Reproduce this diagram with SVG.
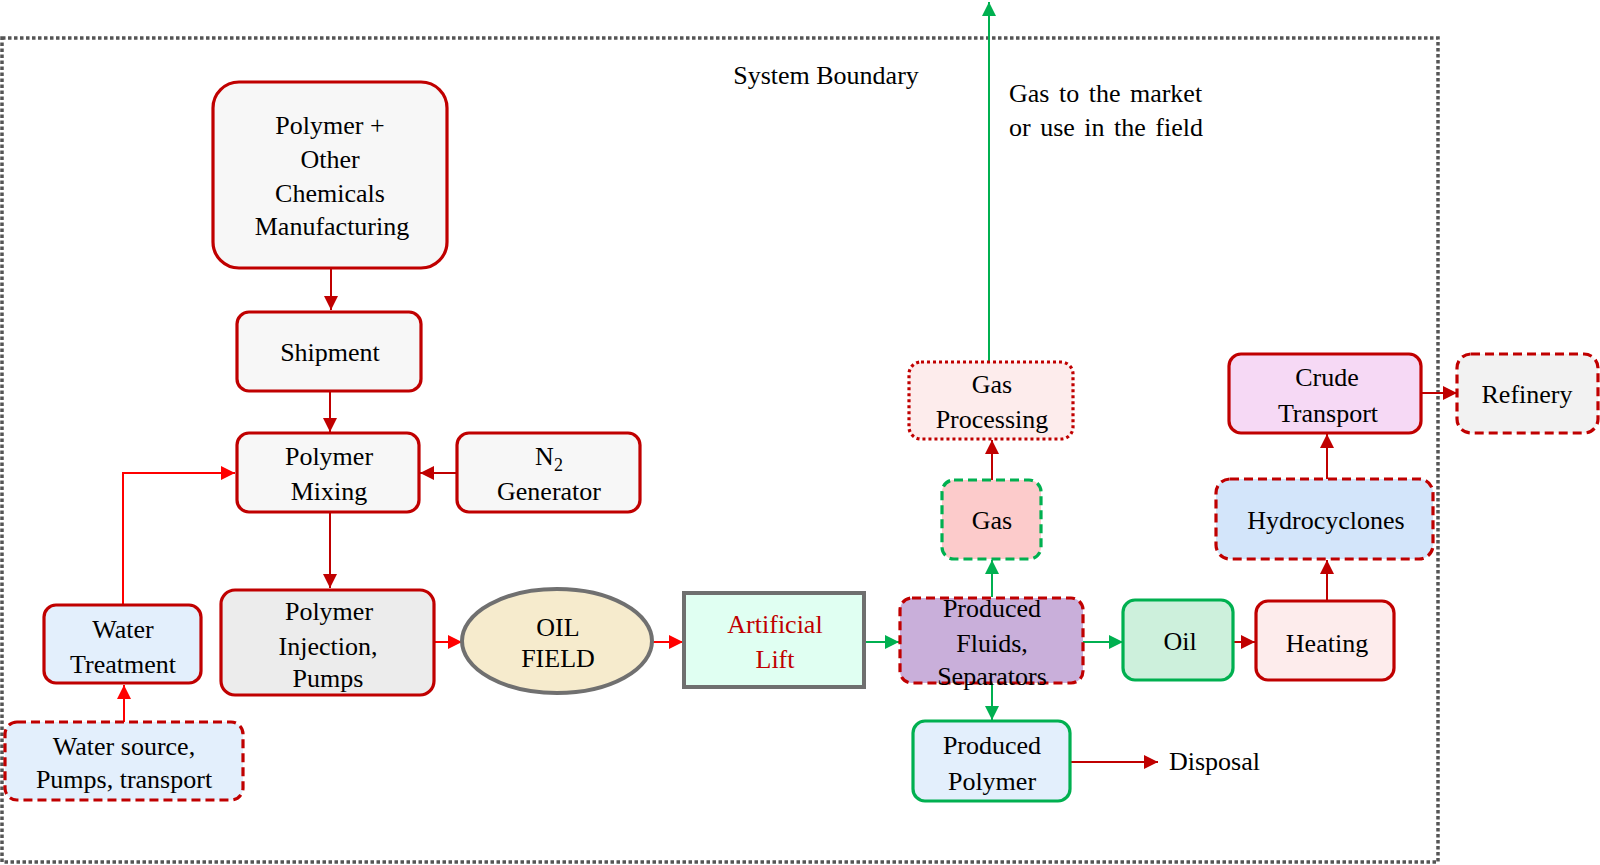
<svg xmlns="http://www.w3.org/2000/svg" width="1600" height="865" viewBox="0 0 1600 865">
<defs>
<style>
text{font-family:"Liberation Serif","Times New Roman",serif;font-size:26px;fill:#000;text-anchor:middle}
.lbl{text-anchor:start}
.box{stroke-width:3.2}
.rs{stroke:#c00000}
.gs{stroke:#00b050}
.dash{stroke-dasharray:9 5}
.dot{stroke-dasharray:3 3}
.cd{fill:none;stroke:#c00000;stroke-width:2}
.cr{fill:none;stroke:#ff0000;stroke-width:2}
.cg{fill:none;stroke:#00b050;stroke-width:2}
</style>
<marker id="ad" markerUnits="userSpaceOnUse" markerWidth="14" markerHeight="14" refX="14" refY="7" orient="auto"><path d="M0,0 L14,7 L0,14 Z" fill="#c00000"/></marker>
<marker id="ar" markerUnits="userSpaceOnUse" markerWidth="14" markerHeight="14" refX="14" refY="7" orient="auto"><path d="M0,0 L14,7 L0,14 Z" fill="#ff0000"/></marker>
<marker id="ag" markerUnits="userSpaceOnUse" markerWidth="14" markerHeight="14" refX="14" refY="7" orient="auto"><path d="M0,0 L14,7 L0,14 Z" fill="#00b050"/></marker>
</defs>
<rect width="1600" height="865" fill="#fff"/>
<g id="boundary">
<rect x="2" y="38" width="1436" height="824" fill="none" stroke="#555555" stroke-width="3.5" stroke-dasharray="3.5 2.5"/>
<text x="826" y="84">System Boundary</text>
</g>
<g id="connectors">
<path class="cd" d="M331,268 V310" marker-end="url(#ad)"/>
<path class="cd" d="M330,391 V432" marker-end="url(#ad)"/>
<path class="cd" d="M457,473 H420" marker-end="url(#ad)"/>
<path class="cr" d="M123,605 V473 H235" marker-end="url(#ar)"/>
<path class="cd" d="M330,512 V588" marker-end="url(#ad)"/>
<path class="cr" d="M124,722 V685" marker-end="url(#ar)"/>
<path class="cr" d="M434,642 H462" marker-end="url(#ar)"/>
<path class="cr" d="M652,642 H683" marker-end="url(#ar)"/>
<path class="cg" d="M864,642 H899" marker-end="url(#ag)"/>
<path class="cg" d="M992,597 V560" marker-end="url(#ag)"/>
<path class="cd" d="M992,480 V440" marker-end="url(#ad)"/>
<path class="cg" d="M989,362 V2" marker-end="url(#ag)"/>
<path class="cg" d="M1083,642 H1123" marker-end="url(#ag)"/>
<path class="cd" d="M1233,642 H1255" marker-end="url(#ad)"/>
<path class="cd" d="M1327,601 V560" marker-end="url(#ad)"/>
<path class="cd" d="M1327,479 V434" marker-end="url(#ad)"/>
<path class="cd" d="M1421,393 H1457" marker-end="url(#ad)"/>
<path class="cg" d="M992,683 V720" marker-end="url(#ag)"/>
<path class="cd" d="M1070,762 H1158" marker-end="url(#ad)"/>
</g>
<g id="gas-market-label">
<text class="lbl" x="1009" y="102" word-spacing="3">Gas to the market</text>
<text class="lbl" x="1009" y="136" word-spacing="3">or use in the field</text>
</g>
<g id="polymer-manufacturing">
<rect class="box rs" x="213" y="82" width="234" height="186" rx="26" fill="#f7f7f7"/>
<text x="330" y="134">Polymer  +</text>
<text x="330" y="168">Other</text>
<text x="330" y="202">Chemicals</text>
<text x="332" y="235">Manufacturing</text>
</g>
<g id="shipment">
<rect class="box rs" x="237" y="312" width="184" height="79" rx="12" fill="#f7f7f7"/>
<text x="330" y="361">Shipment</text>
</g>
<g id="polymer-mixing">
<rect class="box rs" x="237" y="433" width="182" height="79" rx="12" fill="#f7f7f7"/>
<text x="329" y="465">Polymer</text>
<text x="329" y="500">Mixing</text>
</g>
<g id="n2-generator">
<rect class="box rs" x="457" y="433" width="183" height="79" rx="12" fill="#f7f7f7"/>
<text x="549" y="465">N<tspan font-size="18" dy="6">2</tspan></text>
<text x="549" y="500">Generator</text>
</g>
<g id="water-treatment">
<rect class="box rs" x="44" y="605" width="157" height="78" rx="12" fill="#e3effc"/>
<text x="123" y="638">Water</text>
<text x="123" y="673">Treatment</text>
</g>
<g id="water-source">
<rect class="box rs dash" x="5" y="722" width="238" height="78" rx="12" fill="#e3effc"/>
<text x="124" y="755">Water source,</text>
<text x="124" y="788">Pumps,  transport</text>
</g>
<g id="polymer-injection">
<rect class="box rs" x="221" y="590" width="213" height="105" rx="14" fill="#ececec"/>
<text x="329" y="620">Polymer</text>
<text x="328" y="655">Injection,</text>
<text x="328" y="687">Pumps</text>
</g>
<g id="oil-field">
<ellipse cx="557" cy="641" rx="95" ry="52" fill="#f6ebcd" stroke="#707070" stroke-width="4"/>
<text x="558" y="636">OIL</text>
<text x="558" y="667">FIELD</text>
</g>
<g id="artificial-lift">
<rect x="684" y="593" width="180" height="94" fill="#e0fff2" stroke="#6f6f6f" stroke-width="4"/>
<text x="775" y="633" style="fill:#c00000">Artificial</text>
<text x="775" y="668" style="fill:#c00000">Lift</text>
</g>
<g id="produced-fluids">
<rect class="box rs dash" x="900" y="598" width="183" height="85" rx="12" fill="#c9afda"/>
<text x="992" y="617">Produced</text>
<text x="992" y="652">Fluids,</text>
<text x="992" y="685">Separators</text>
</g>
<g id="gas">
<rect class="box gs dash" x="942" y="480" width="99" height="79" rx="12" fill="#fccbcb"/>
<text x="992" y="529">Gas</text>
</g>
<g id="gas-processing">
<rect class="box rs dot" x="909" y="362" width="164" height="77" rx="12" fill="#fdecec"/>
<text x="992" y="393">Gas</text>
<text x="992" y="428">Processing</text>
</g>
<g id="oil">
<rect class="box gs" x="1123" y="600" width="110" height="80" rx="12" fill="#cdf0dc"/>
<text x="1180" y="650">Oil</text>
</g>
<g id="heating">
<rect class="box rs" x="1256" y="601" width="138" height="79" rx="12" fill="#fdecec"/>
<text x="1327" y="652">Heating</text>
</g>
<g id="hydrocyclones">
<rect class="box rs dash" x="1216" y="479" width="217" height="80" rx="14" fill="#d3e5fa"/>
<text x="1326" y="529">Hydrocyclones</text>
</g>
<g id="crude-transport">
<rect class="box rs" x="1229" y="354" width="192" height="79" rx="12" fill="#f6d9f5"/>
<text x="1327" y="386">Crude</text>
<text x="1328" y="422">Transport</text>
</g>
<g id="refinery">
<rect class="box rs dash" x="1457" y="354" width="141" height="79" rx="14" fill="#f2f2f2"/>
<text x="1527" y="403">Refinery</text>
</g>
<g id="produced-polymer">
<rect class="box gs" x="913" y="721" width="157" height="80" rx="12" fill="#e3effc"/>
<text x="992" y="754">Produced</text>
<text x="992" y="790">Polymer</text>
</g>
<g id="disposal">
<text class="lbl" x="1169" y="770">Disposal</text>
</g>
</svg>
